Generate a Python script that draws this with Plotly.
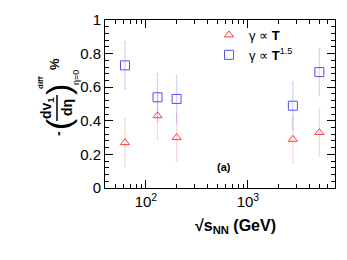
import plotly.graph_objects as go

energies = [62.4, 130, 200, 2760, 5020]
v_T = [0.27, 0.43, 0.30, 0.29, 0.33]
v_T15 = [0.73, 0.54, 0.53, 0.49, 0.69]
err_T = [0.14, 0.14, 0.14, 0.14, 0.14]
err_T15 = [0.14, 0.14, 0.14, 0.14, 0.14]
x_tickvals = [100, 1000]
x_ticktext = ["10<sup>2</sup>", "10<sup>3</sup>"]
x_minor = [40, 50, 60, 70, 80, 90, 200, 300, 400, 500, 600, 700, 800, 900,
           2000, 3000, 4000, 5000, 6000, 7000]

FONT = "Liberation Sans, Arial, sans-serif"
# page body has an 8px margin; plot area on screen: x 105..335, y 20..188
W, H = 331, 244
L, R, T, B = 97, 4, 12, 64
X0, X1, Y0, Y1 = 105, 335, 20, 188

def px(x):
    return (x - X0) / (X1 - X0)

def py(y):
    return (Y1 - y) / (Y1 - Y0)

fig = go.Figure()
fig.add_trace(go.Scatter(
    x=energies, y=v_T, mode="markers", name="γ ∝ <b>T</b>",
    marker=dict(symbol="triangle-up-open", size=8, color="rgb(255,60,60)", line=dict(width=1)),
    error_y=dict(type="data", array=err_T, color="rgba(255,80,80,0.25)", thickness=1.2, width=1),
))
fig.add_trace(go.Scatter(
    x=energies, y=v_T15, mode="markers", name="γ ∝ <b>T</b><sup>1.5</sup>",
    marker=dict(symbol="square-open", size=9, color="rgb(80,80,255)", line=dict(width=1)),
    error_y=dict(type="data", array=err_T15, color="rgba(80,80,255,0.25)", thickness=1.2, width=1),
))

fig.update_xaxes(
    type="log", range=[1.599, 3.854], tickvals=x_tickvals, ticktext=x_ticktext,
    ticks="inside", ticklen=8, tickcolor="black", showline=True, linecolor="black",
    linewidth=1, mirror="allticks", showgrid=False, zeroline=False,
    tickfont=dict(family=FONT, size=15, color="black"),
    minor=dict(tickvals=x_minor, ticks="inside", ticklen=4, tickcolor="black", showgrid=False),
)
fig.update_yaxes(
    range=[0, 1], dtick=0.2, tickformat="~g",
    ticks="inside", ticklen=8, tickcolor="black", showline=True, linecolor="black",
    linewidth=1, mirror="allticks", showgrid=False, zeroline=False,
    tickfont=dict(family=FONT, size=15, color="black"),
    minor=dict(dtick=0.04, ticks="inside", ticklen=4, tickcolor="black", showgrid=False),
)

ann = []
ann.append(dict(x=px(235), y=py(226), text="<b>√s<sub>NN</sub> (GeV)</b>",
                font=dict(family=FONT, size=16, color="black")))
ann.append(dict(x=px(224), y=py(167), text="<b>(a)</b>",
                font=dict(family=FONT, size=11, color="black")))
# y-axis title pieces (rotated)
ann.append(dict(x=px(47), y=py(108), text="<b>dv<sub>1</sub></b>", textangle=-90, font=dict(family=FONT, size=14, color="black")))
ann.append(dict(x=px(67), y=py(108), text="<b>dη</b>", textangle=-90, font=dict(family=FONT, size=14, color="black")))
ann.append(dict(x=px(58), y=py(134), text="<b>-</b>", textangle=-90, font=dict(family=FONT, size=14, color="black")))
ann.append(dict(x=px(58), y=py(124), text="(", textangle=-90, font=dict(family=FONT, size=34, color="black")))
ann.append(dict(x=px(58), y=py(90), text=")", textangle=-90, font=dict(family=FONT, size=34, color="black")))
ann.append(dict(x=px(40), y=py(83), text="<b>diff</b>", textangle=-90, font=dict(family=FONT, size=8, color="black")))
ann.append(dict(x=px(76), y=py(78), text="η=0", textangle=-90, font=dict(family=FONT, size=9, color="black")))
ann.append(dict(x=px(55), y=py(64), text="<b>%</b>", textangle=-90, font=dict(family=FONT, size=13, color="black")))

fig.add_shape(type="line", xref="paper", yref="paper", x0=px(57), x1=px(57),
              y0=py(95), y1=py(121), line=dict(color="black", width=1.5))

for a in ann:
    a.update(xref="paper", yref="paper", showarrow=False, xanchor="center", yanchor="middle")

fig.update_layout(
    width=W, height=H, margin=dict(l=L, r=R, t=T, b=B),
    paper_bgcolor="white", plot_bgcolor="white",
    annotations=ann, showlegend=True,
    legend=dict(x=px(209), y=py(20), xanchor="left", yanchor="top",
                bgcolor="rgba(0,0,0,0)", font=dict(family=FONT, size=13, color="black"),
                itemwidth=30, tracegroupgap=0),
)

fig.write_html("out.html")
